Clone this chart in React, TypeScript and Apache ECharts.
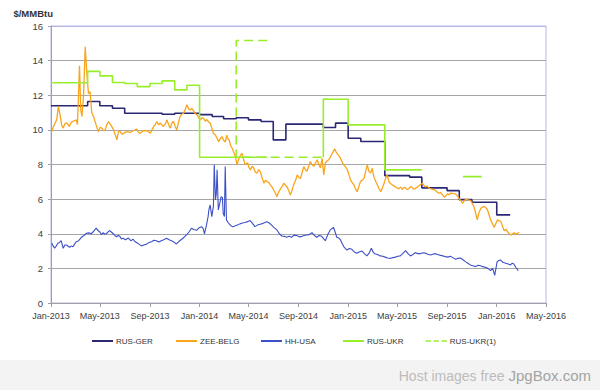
import { useEffect, useRef } from 'react';
import * as echarts from 'echarts';

type Pt = [string, number | null];

const SERIES_NAMES = ['RUS-GER', 'ZEE-BELG', 'HH-USA', 'RUS-UKR', 'RUS-UKR(1)'];
const SERIES_COLORS = ['#2b2775', '#f9a51c', '#3d50c6', '#99ee2a', '#99ee2a'];

const X_TICK_DATES = ['2013-01-01', '2013-05-01', '2013-09-01', '2014-01-01', '2014-05-01', '2014-09-01', '2015-01-01', '2015-05-01', '2015-09-01', '2016-01-01', '2016-05-01'];
const X_TICK_LABELS = ['Jan-2013', 'May-2013', 'Sep-2013', 'Jan-2014', 'May-2014', 'Sep-2014', 'Jan-2015', 'May-2015', 'Sep-2015', 'Jan-2016', 'May-2016'];
const Y_MIN = 0;
const Y_MAX = 16;
const Y_STEP = 2;
const Y_TITLE = '$/MMBtu';

// step series (value holds until next date)
const rusGer: Pt[] = [
  ['2013-01-01', 11.39], ['2013-04-01', 11.64], ['2013-05-01', 11.39], ['2013-06-01', 11.25],
  ['2013-07-01', 10.96], ['2013-10-01', 10.9], ['2013-11-01', 10.96], ['2014-01-01', 10.88],
  ['2014-02-01', 10.77], ['2014-03-01', 10.64], ['2014-04-01', 10.7], ['2014-05-01', 10.58],
  ['2014-06-01', 10.48], ['2014-07-01', 9.42], ['2014-08-01', 10.33], ['2014-11-01', 10.14],
  ['2014-12-01', 10.39], ['2015-01-01', 9.52], ['2015-02-01', 9.33], ['2015-04-01', 7.36],
  ['2015-06-01', 7.27], ['2015-07-01', 6.65], ['2015-09-01', 6.49], ['2015-10-01', 5.97],
  ['2015-11-01', 5.82], ['2016-01-01', 5.09], ['2016-02-03', 5.09],
];

const rusUkr: Pt[] = [
  ['2013-01-01', 12.72], ['2013-04-01', 13.38], ['2013-05-01', 13.12], ['2013-06-01', 12.74],
  ['2013-07-01', 12.68], ['2013-08-01', 12.5], ['2013-09-01', 12.68], ['2013-10-01', 12.83],
  ['2013-11-01', 12.31], ['2013-12-01', 12.58], ['2014-01-01', 8.42], ['2014-06-16', 8.42],
  ['2014-06-17', null], ['2014-11-01', 8.42], ['2014-11-01', 11.77], ['2015-01-01', 10.29],
  ['2015-04-01', 7.69], ['2015-07-01', 7.69], ['2015-07-02', null], ['2015-10-10', 7.3],
  ['2015-11-25', 7.3],
];

const rusUkr1: Pt[] = [
  ['2014-06-16', 15.16], ['2014-04-01', 15.16], ['2014-04-01', 8.42], ['2014-11-01', 8.42],
  ['2014-11-02', null], ['2014-11-01', 11.77], ['2014-11-12', 11.77],
];

const zeeBelg: Pt[] = [
  ['2013-01-03', 9.9], ['2013-01-07', 10.2], ['2013-01-15', 10.58], ['2013-01-19', 11.35],
  ['2013-01-23', 10.9], ['2013-01-27', 10.3], ['2013-01-31', 10.1], ['2013-02-04', 10.35],
  ['2013-02-09', 10.4], ['2013-02-15', 10.2], ['2013-02-20', 10.45], ['2013-02-25', 10.5],
  ['2013-03-04', 10.58], ['2013-03-07', 10.3], ['2013-03-12', 13.7], ['2013-03-15', 11.2],
  ['2013-03-18', 10.77], ['2013-03-22', 12.0], ['2013-03-26', 14.8], ['2013-03-30', 13.3],
  ['2013-04-03', 12.1], ['2013-04-07', 12.2], ['2013-04-11', 11.0], ['2013-04-15', 10.8],
  ['2013-04-23', 10.2], ['2013-04-27', 9.9], ['2013-05-02', 10.15], ['2013-05-06', 10.1],
  ['2013-05-10', 9.95], ['2013-05-14', 10.0], ['2013-05-18', 10.3], ['2013-05-22', 10.48],
  ['2013-05-26', 10.35], ['2013-05-30', 10.2], ['2013-06-04', 10.0], ['2013-06-08', 9.7],
  ['2013-06-12', 9.42], ['2013-06-16', 9.95], ['2013-06-20', 9.9], ['2013-06-24', 9.75],
  ['2013-06-28', 9.8], ['2013-07-06', 9.9], ['2013-07-14', 9.85], ['2013-07-22', 9.95],
  ['2013-07-31', 10.05], ['2013-08-04', 9.85], ['2013-08-08', 9.8], ['2013-08-16', 9.95],
  ['2013-08-25', 9.96], ['2013-09-02', 9.8], ['2013-09-06', 10.0], ['2013-09-10', 10.2],
  ['2013-09-14', 10.3], ['2013-09-18', 10.48], ['2013-09-22', 10.3], ['2013-09-26', 10.4],
  ['2013-10-04', 10.2], ['2013-10-09', 10.35], ['2013-10-13', 10.58], ['2013-10-17', 10.3],
  ['2013-10-21', 10.1], ['2013-10-25', 10.4], ['2013-10-29', 10.5], ['2013-11-02', 10.2],
  ['2013-11-06', 10.0], ['2013-11-10', 10.4], ['2013-11-14', 10.77], ['2013-11-18', 10.9],
  ['2013-11-23', 10.96], ['2013-11-27', 11.2], ['2013-12-01', 11.45], ['2013-12-05', 11.2],
  ['2013-12-09', 11.15], ['2013-12-13', 11.25], ['2013-12-17', 11.1], ['2013-12-21', 10.95],
  ['2013-12-26', 10.87], ['2013-12-30', 10.7], ['2014-01-03', 10.58], ['2014-01-07', 10.7],
  ['2014-01-11', 10.67], ['2014-01-15', 10.5], ['2014-01-19', 10.6], ['2014-01-23', 10.45],
  ['2014-01-27', 10.4], ['2014-01-31', 10.1], ['2014-02-04', 9.8], ['2014-02-09', 9.71],
  ['2014-02-13', 9.5], ['2014-02-17', 9.32], ['2014-02-21', 9.5], ['2014-02-25', 9.61],
  ['2014-03-01', 9.4], ['2014-03-05', 9.3], ['2014-03-09', 9.7], ['2014-03-12', 9.45],
  ['2014-03-15', 9.4], ['2014-03-18', 9.1], ['2014-03-22', 8.94], ['2014-03-26', 8.7],
  ['2014-03-30', 8.46], ['2014-04-03', 7.98], ['2014-04-07', 8.3], ['2014-04-11', 8.5],
  ['2014-04-15', 8.65], ['2014-04-19', 8.3], ['2014-04-23', 7.98], ['2014-04-29', 8.1],
  ['2014-05-02', 7.85], ['2014-05-06', 7.69], ['2014-05-10', 7.9], ['2014-05-14', 7.8],
  ['2014-05-18', 7.55], ['2014-05-22', 7.5], ['2014-05-26', 7.7], ['2014-05-30', 7.6],
  ['2014-06-04', 7.2], ['2014-06-08', 6.92], ['2014-06-12', 7.1], ['2014-06-16', 7.0],
  ['2014-06-20', 6.95], ['2014-06-24', 6.82], ['2014-06-28', 6.7], ['2014-07-02', 6.53],
  ['2014-07-06', 6.35], ['2014-07-10', 6.14], ['2014-07-14', 6.4], ['2014-07-19', 6.6],
  ['2014-07-23', 6.75], ['2014-07-27', 6.92], ['2014-07-31', 6.8], ['2014-08-04', 6.7],
  ['2014-08-08', 6.5], ['2014-08-12', 6.24], ['2014-08-16', 6.5], ['2014-08-20', 6.82],
  ['2014-08-25', 7.1], ['2014-08-29', 7.4], ['2014-09-02', 7.25], ['2014-09-06', 7.2],
  ['2014-09-10', 7.55], ['2014-09-14', 7.88], ['2014-09-18', 7.7], ['2014-09-22', 7.6],
  ['2014-09-26', 7.9], ['2014-09-30', 8.17], ['2014-10-04', 8.0], ['2014-10-09', 7.9],
  ['2014-10-13', 8.1], ['2014-10-17', 8.27], ['2014-10-21', 8.0], ['2014-10-25', 7.8],
  ['2014-10-29', 8.36], ['2014-11-02', 7.4], ['2014-11-06', 8.1], ['2014-11-10', 8.2],
  ['2014-11-14', 8.27], ['2014-11-19', 8.45], ['2014-11-23', 8.65], ['2014-11-29', 8.9],
  ['2014-12-02', 8.75], ['2014-12-06', 8.6], ['2014-12-10', 8.5], ['2014-12-13', 8.36],
  ['2014-12-17', 8.15], ['2014-12-21', 7.98], ['2014-12-26', 7.85], ['2014-12-30', 7.7],
  ['2015-01-03', 7.4], ['2015-01-07', 7.1], ['2015-01-11', 6.95], ['2015-01-15', 6.82],
  ['2015-01-19', 6.6], ['2015-01-23', 6.43], ['2015-01-27', 6.7], ['2015-01-31', 7.01],
  ['2015-02-05', 7.1], ['2015-02-09', 7.2], ['2015-02-13', 7.6], ['2015-02-17', 7.98],
  ['2015-02-21', 7.6], ['2015-02-25', 7.5], ['2015-03-01', 7.78], ['2015-03-05', 7.3],
  ['2015-03-10', 7.0], ['2015-03-14', 6.82], ['2015-03-18', 6.6], ['2015-03-22', 6.43],
  ['2015-03-26', 6.65], ['2015-03-30', 6.9], ['2015-04-03', 7.2], ['2015-04-07', 7.4],
  ['2015-04-11', 7.0], ['2015-04-15', 6.9], ['2015-04-20', 6.82], ['2015-04-24', 6.75],
  ['2015-04-28', 6.7], ['2015-05-01', 6.65], ['2015-05-05', 6.6], ['2015-05-10', 6.7],
  ['2015-05-14', 6.57], ['2015-05-18', 6.68], ['2015-05-22', 6.65], ['2015-05-26', 6.55],
  ['2015-05-30', 6.6], ['2015-06-03', 6.72], ['2015-06-06', 6.7], ['2015-06-11', 6.58],
  ['2015-06-16', 6.63], ['2015-06-20', 6.7], ['2015-06-23', 6.75], ['2015-06-28', 6.85],
  ['2015-07-02', 6.92], ['2015-07-06', 6.8], ['2015-07-10', 6.7], ['2015-07-14', 6.75],
  ['2015-07-18', 6.65], ['2015-07-22', 6.6], ['2015-07-27', 6.57], ['2015-07-31', 6.55],
  ['2015-08-04', 6.5], ['2015-08-08', 6.4], ['2015-08-12', 6.34], ['2015-08-16', 6.38],
  ['2015-08-19', 6.3], ['2015-08-25', 6.11], ['2015-08-29', 6.2], ['2015-09-02', 6.3],
  ['2015-09-06', 6.25], ['2015-09-10', 6.35], ['2015-09-16', 6.32], ['2015-09-22', 6.3],
  ['2015-09-26', 6.2], ['2015-09-30', 6.05], ['2015-10-05', 5.9], ['2015-10-09', 5.76],
  ['2015-10-13', 5.9], ['2015-10-17', 6.0], ['2015-10-23', 5.95], ['2015-10-29', 5.91],
  ['2015-11-02', 5.75], ['2015-11-06', 5.57], ['2015-11-10', 5.2], ['2015-11-14', 4.8],
  ['2015-11-18', 5.2], ['2015-11-23', 5.47], ['2015-11-27', 5.55], ['2015-12-01', 5.57],
  ['2015-12-05', 5.5], ['2015-12-09', 5.4], ['2015-12-13', 5.1], ['2015-12-17', 4.8],
  ['2015-12-22', 4.55], ['2015-12-26', 4.37], ['2015-12-30', 4.6], ['2016-01-03', 4.8],
  ['2016-01-07', 4.75], ['2016-01-11', 4.7], ['2016-01-15', 4.45], ['2016-01-19', 4.18],
  ['2016-01-24', 4.25], ['2016-01-28', 4.1], ['2016-02-01', 4.0], ['2016-02-05', 3.93],
  ['2016-02-09', 4.0], ['2016-02-13', 4.05], ['2016-02-17', 3.98], ['2016-02-20', 4.0],
  ['2016-02-25', 4.09],
];

const hhUsa: Pt[] = [
  ['2013-01-03', 3.47], ['2013-01-06', 3.3], ['2013-01-10', 3.16], ['2013-01-14', 3.3],
  ['2013-01-18', 3.45], ['2013-01-22', 3.5], ['2013-01-26', 3.6], ['2013-01-31', 3.16],
  ['2013-02-04', 3.35], ['2013-02-08', 3.35], ['2013-02-12', 3.28], ['2013-02-16', 3.22],
  ['2013-02-20', 3.3], ['2013-02-24', 3.25], ['2013-02-28', 3.4], ['2013-03-04', 3.54],
  ['2013-03-10', 3.6], ['2013-03-17', 3.8], ['2013-03-23', 3.9], ['2013-03-29', 4.03],
  ['2013-04-04', 4.05], ['2013-04-10', 4.0], ['2013-04-16', 4.15], ['2013-04-22', 4.32],
  ['2013-04-26', 4.2], ['2013-05-01', 4.1], ['2013-05-05', 3.95], ['2013-05-09', 4.06],
  ['2013-05-13', 3.98], ['2013-05-17', 4.0], ['2013-05-21', 4.1], ['2013-05-25', 4.18],
  ['2013-05-29', 4.1], ['2013-06-03', 4.0], ['2013-06-07', 3.9], ['2013-06-11', 3.83],
  ['2013-06-15', 3.9], ['2013-06-19', 3.85], ['2013-06-23', 3.7], ['2013-06-27', 3.74],
  ['2013-07-03', 3.65], ['2013-07-10', 3.75], ['2013-07-16', 3.6], ['2013-07-22', 3.68],
  ['2013-07-26', 3.55], ['2013-07-30', 3.49], ['2013-08-05', 3.4], ['2013-08-11', 3.3],
  ['2013-08-17', 3.35], ['2013-08-24', 3.4], ['2013-08-30', 3.5], ['2013-09-05', 3.54],
  ['2013-09-11', 3.62], ['2013-09-17', 3.6], ['2013-09-23', 3.52], ['2013-09-29', 3.6],
  ['2013-10-05', 3.65], ['2013-10-12', 3.74], ['2013-10-18', 3.65], ['2013-10-24', 3.6],
  ['2013-10-30', 3.52], ['2013-11-05', 3.41], ['2013-11-11', 3.55], ['2013-11-18', 3.68],
  ['2013-11-24', 3.8], ['2013-11-30', 3.93], ['2013-12-06', 4.1], ['2013-12-12', 4.32],
  ['2013-12-18', 4.25], ['2013-12-25', 4.2], ['2013-12-31', 4.35], ['2014-01-06', 4.41],
  ['2014-01-10', 4.3], ['2014-01-13', 3.99], ['2014-01-16', 4.3], ['2014-01-18', 4.51],
  ['2014-01-22', 5.0], ['2014-01-24', 5.4], ['2014-01-27', 5.66], ['2014-01-31', 4.99],
  ['2014-02-04', 5.6], ['2014-02-06', 7.98], ['2014-02-09', 5.95], ['2014-02-11', 6.3],
  ['2014-02-13', 7.69], ['2014-02-16', 5.38], ['2014-02-20', 5.8], ['2014-02-23', 6.14],
  ['2014-02-26', 6.1], ['2014-02-28', 5.18], ['2014-03-03', 5.0], ['2014-03-05', 7.88],
  ['2014-03-08', 4.8], ['2014-03-12', 4.65], ['2014-03-17', 4.51], ['2014-03-23', 4.4],
  ['2014-03-29', 4.45], ['2014-04-04', 4.5], ['2014-04-10', 4.57], ['2014-04-16', 4.62],
  ['2014-04-23', 4.65], ['2014-04-29', 4.7], ['2014-05-05', 4.76], ['2014-05-11', 4.6],
  ['2014-05-17', 4.41], ['2014-05-23', 4.5], ['2014-05-30', 4.55], ['2014-06-06', 4.6],
  ['2014-06-15', 4.7], ['2014-06-21', 4.62], ['2014-06-27', 4.5], ['2014-07-03', 4.35],
  ['2014-07-10', 4.22], ['2014-07-16', 4.0], ['2014-07-22', 3.87], ['2014-07-28', 3.85],
  ['2014-08-03', 3.8], ['2014-08-09', 3.85], ['2014-08-15', 3.8], ['2014-08-21', 3.92],
  ['2014-08-28', 3.9], ['2014-09-03', 3.82], ['2014-09-09', 3.85], ['2014-09-15', 3.9],
  ['2014-09-21', 3.93], ['2014-09-27', 3.95], ['2014-10-04', 4.06], ['2014-10-10', 3.9],
  ['2014-10-16', 3.8], ['2014-10-22', 3.9], ['2014-10-28', 3.85], ['2014-11-02', 3.7],
  ['2014-11-06', 3.6], ['2014-11-12', 3.95], ['2014-11-18', 4.22], ['2014-11-26', 4.37],
  ['2014-11-30', 4.1], ['2014-12-04', 3.8], ['2014-12-09', 3.75], ['2014-12-13', 3.65],
  ['2014-12-17', 3.45], ['2014-12-21', 3.26], ['2014-12-25', 3.15], ['2014-12-29', 3.06],
  ['2015-01-04', 3.15], ['2015-01-10', 3.1], ['2015-01-16', 2.95], ['2015-01-22', 2.87],
  ['2015-01-28', 2.95], ['2015-02-04', 3.0], ['2015-02-10', 2.85], ['2015-02-16', 2.72],
  ['2015-02-22', 2.9], ['2015-02-27', 3.16], ['2015-03-03', 2.95], ['2015-03-07', 2.85],
  ['2015-03-14', 2.8], ['2015-03-21', 2.72], ['2015-03-27', 2.7], ['2015-04-02', 2.65],
  ['2015-04-08', 2.6], ['2015-04-15', 2.58], ['2015-04-21', 2.62], ['2015-04-27', 2.65],
  ['2015-05-03', 2.7], ['2015-05-09', 2.72], ['2015-05-15', 2.85], ['2015-05-22', 3.02],
  ['2015-05-28', 2.85], ['2015-06-03', 2.72], ['2015-06-09', 2.8], ['2015-06-15', 2.91],
  ['2015-06-21', 2.85], ['2015-06-27', 2.85], ['2015-07-04', 2.9], ['2015-07-10', 2.88],
  ['2015-07-16', 2.82], ['2015-07-22', 2.77], ['2015-07-28', 2.82], ['2015-08-03', 2.85],
  ['2015-08-09', 2.8], ['2015-08-16', 2.75], ['2015-08-22', 2.72], ['2015-08-28', 2.68],
  ['2015-09-03', 2.65], ['2015-09-09', 2.7], ['2015-09-15', 2.62], ['2015-09-22', 2.53],
  ['2015-09-28', 2.58], ['2015-10-04', 2.6], ['2015-10-10', 2.5], ['2015-10-16', 2.39],
  ['2015-10-22', 2.3], ['2015-10-28', 2.2], ['2015-11-03', 2.15], ['2015-11-10', 2.1],
  ['2015-11-16', 2.18], ['2015-11-22', 2.15], ['2015-11-28', 2.1], ['2015-12-04', 2.06],
  ['2015-12-10', 2.0], ['2015-12-17', 1.87], ['2015-12-22', 2.0], ['2015-12-27', 1.6],
  ['2016-01-02', 2.39], ['2016-01-06', 2.45], ['2016-01-10', 2.49], ['2016-01-16', 2.35],
  ['2016-01-23', 2.3], ['2016-01-29', 2.25], ['2016-02-04', 2.2], ['2016-02-08', 2.3],
  ['2016-02-12', 2.25], ['2016-02-17', 2.05], ['2016-02-23', 1.87],
];

const toTs = (s: string) => {
  const [y, m, d] = s.split('-').map(Number);
  return Date.UTC(y, m - 1, d);
};
const conv = (arr: Pt[]) => arr.map(([d, v]) => [toTs(d), v === null ? '-' : v]);

const LEGEND_LEFTS = [91, 175, 260, 342, 425];

export default function App() {
  const ref = useRef<HTMLDivElement>(null);
  useEffect(() => {
    if (!ref.current) return;
    const chart = echarts.init(ref.current, undefined, { renderer: 'svg' });
    const tickTs = X_TICK_DATES.map(toTs);
    const font = 'Liberation Sans';
    const gridCol = '#a6a6a6';
    const splitColors: string[] = [];
    for (let v = Y_MIN; v <= Y_MAX; v += Y_STEP) splitColors.push(v === Y_MAX ? '#b7b7e6' : gridCol);

    const base = { type: 'line', symbol: 'none', connectNulls: false };
    const legends = SERIES_NAMES.map((n, i) => ({
      left: LEGEND_LEFTS[i], top: 337, padding: 0, itemWidth: 21, itemHeight: 10,
      itemStyle: { opacity: 0 },
      textStyle: { fontSize: 8, color: '#333333', fontFamily: font, padding: [0, 0, 0, -2] },
      data: [i === 4 ? { name: n, lineStyle: { type: [5, 3], width: 1.6 } } : { name: n }],
    }));
    chart.setOption({
      animation: false,
      backgroundColor: '#ffffff',
      textStyle: { fontFamily: font },
      grid: {
        left: 51, top: 26, right: 54, bottom: 87,
        show: true, borderColor: '#b7b7e6', borderWidth: 1, backgroundColor: 'transparent',
      },
      legend: legends,
      xAxis: {
        type: 'value',
        min: tickTs[0],
        max: tickTs[tickTs.length - 1],
        axisLine: { show: true, lineStyle: { color: '#a0a0a0', width: 1 } },
        axisTick: { show: true, length: 4, inside: false, lineStyle: { color: '#a0a0a0' }, customValues: tickTs },
        axisLabel: {
          show: true, fontSize: 9, color: '#404040', margin: 8, fontFamily: font,
          customValues: tickTs,
          showMinLabel: true, showMaxLabel: true,
          formatter: (val: number) => {
            let best = 0;
            tickTs.forEach((t, i) => { if (Math.abs(t - val) < Math.abs(tickTs[best] - val)) best = i; });
            return X_TICK_LABELS[best];
          },
        },
        splitLine: { show: false },
      },
      yAxis: {
        type: 'value',
        min: Y_MIN, max: Y_MAX, interval: Y_STEP,
        name: Y_TITLE,
        nameLocation: 'end',
        nameGap: 8,
        nameTextStyle: { align: 'right', verticalAlign: 'bottom', fontSize: 9.5, fontWeight: 'bold', color: '#333333', fontFamily: font, padding: [0, -2, 0, 0] },
        axisLine: { show: true, lineStyle: { color: '#a0a0a0', width: 1 } },
        axisTick: { show: true, length: 3, lineStyle: { color: '#a0a0a0' } },
        axisLabel: { fontSize: 9.5, color: '#404040', margin: 8, fontFamily: font },
        splitLine: { show: true, lineStyle: { color: splitColors, width: 1 } },
      },
      series: [
        { ...base, name: SERIES_NAMES[0], step: 'end', data: conv(rusGer), color: SERIES_COLORS[0], lineStyle: { width: 1.6, color: SERIES_COLORS[0] } },
        { ...base, name: SERIES_NAMES[1], data: conv(zeeBelg), color: SERIES_COLORS[1], lineStyle: { width: 1.3, color: SERIES_COLORS[1] } },
        { ...base, name: SERIES_NAMES[2], data: conv(hhUsa), color: SERIES_COLORS[2], lineStyle: { width: 1.1, color: SERIES_COLORS[2] } },
        { ...base, name: SERIES_NAMES[3], step: 'end', data: conv(rusUkr), color: SERIES_COLORS[3], lineStyle: { width: 1.6, color: SERIES_COLORS[3] } },
        { ...base, name: SERIES_NAMES[4], data: conv(rusUkr1), color: SERIES_COLORS[4], lineStyle: { width: 1.6, color: SERIES_COLORS[4], type: [9, 5] } },
      ],
      graphic: [
        { type: 'rect', left: 0, top: 360, shape: { width: 600, height: 30 }, style: { fill: '#f3f3f3' }, silent: true, z: -1 },
        {
          type: 'text', right: 9, top: 368, silent: true,
          style: {
            text: '{a|Host images free }{b|JpgBox.com}',
            rich: {
              a: { fontSize: 14, fill: '#bcbcbc', fontFamily: font },
              b: { fontSize: 15, fill: '#a4a4a4', fontFamily: font },
            },
          },
        },
      ],
    });
    return () => chart.dispose();
  }, []);
  return <div ref={ref} style={{ position: 'absolute', left: 0, top: 0, width: 600, height: 390 }} />;
}
